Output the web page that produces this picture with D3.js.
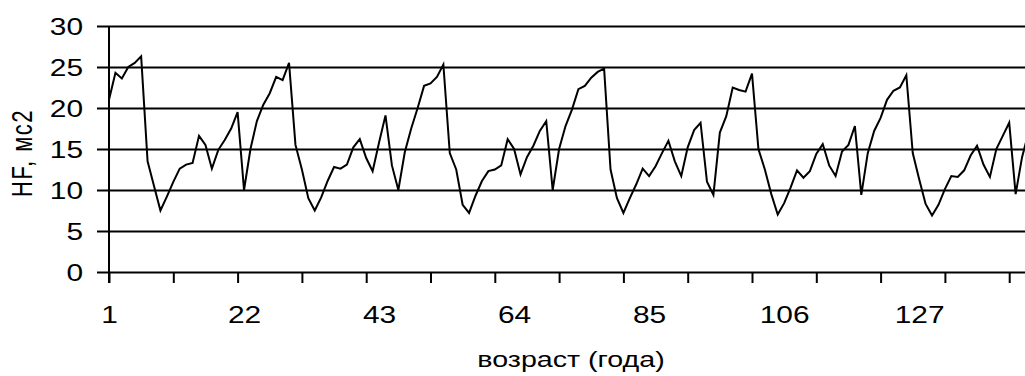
<!DOCTYPE html>
<html><head><meta charset="utf-8">
<script src="https://cdn.jsdelivr.net/npm/d3@7"></script>
<style>html,body{margin:0;padding:0;background:#fff;overflow:hidden}</style>
</head><body>
<svg id="c" width="1025" height="376"></svg>
<script>
// HF values (мс2) per category 1..144
const values = [
  21.0, 24.3, 23.6, 25.0, 25.5, 26.3, 13.5, 10.5, 7.5, 9.2,
  11.0, 12.6, 13.1, 13.3, 16.6, 15.5, 12.6, 14.9, 16.1, 17.5,
  19.5, 10.0, 15.0, 18.4, 20.4, 21.8, 23.8, 23.4, 25.5, 15.5,
  12.5, 9.0, 7.5, 9.1, 11.1, 12.8, 12.6, 13.1, 15.2, 16.2,
  13.9, 12.3, 15.8, 19.1, 13.0, 10.0, 14.6, 17.5, 20.0, 22.7,
  23.0, 23.8, 25.3, 14.5, 12.5, 8.2, 7.2, 9.3, 11.1, 12.3,
  12.5, 13.0, 16.2, 15.0, 11.9, 14.0, 15.4, 17.2, 18.4, 10.0,
  15.0, 17.8, 19.8, 22.3, 22.7, 23.7, 24.4, 24.8, 12.5, 9.0,
  7.2, 9.0, 10.7, 12.6, 11.7, 12.9, 14.5, 16.0, 13.5, 11.7,
  15.2, 17.3, 18.2, 11.0, 9.4, 17.0, 19.0, 22.5, 22.2, 22.0,
  24.2, 15.0, 12.5, 9.5, 7.0, 8.4, 10.3, 12.4, 11.5, 12.3,
  14.4, 15.6, 13.0, 11.7, 14.7, 15.5, 17.8, 9.4, 14.5, 17.2,
  18.8, 21.0, 22.1, 22.5, 24.0, 14.5, 11.3, 8.3, 6.9, 8.2,
  10.1, 11.7, 11.6, 12.4, 14.2, 15.4, 13.1, 11.6, 15.0, 16.6,
  18.2, 9.5, 14.0, 17.0
];
const categories = values.map((d, i) => i + 1);
const yTicks = [0, 5, 10, 15, 20, 25, 30];
const xLabelCats = [1, 22, 43, 64, 85, 106, 127];
const xTickCats = d3.range(1, 150, 10);
const xTitle = "возраст (года)";
const yTitle = "HF, мс2";

const FONT = "'Liberation Sans', Arial, sans-serif";
const SX = 1.3; // horizontal stretch of the source picture

const svg = d3.select('#c');
const plotLeft = 109, plotTop = 26, plotBottom = 272;
const x = d3.scaleLinear().domain([1, 145]).range([plotLeft, plotLeft + 144 * 6.43]);
const y = d3.scaleLinear().domain([0, 30]).range([plotBottom, plotTop]);
const W = 1100 - plotLeft;

// Y axis with gridlines
const gy = svg.append('g').attr('transform', `translate(${plotLeft},0)`)
  .call(d3.axisLeft(y).tickValues(yTicks).tickSize(12).tickSizeOuter(0));
gy.select('.domain').remove();
gy.selectAll('.tick line').attr('x1', -12).attr('x2', W)
  .attr('stroke', '#000').attr('stroke-width', 2);
gy.selectAll('.tick text')
  .attr('x', -26 / SX).attr('dy', '0.36em')
  .attr('transform', `scale(${SX},1)`)
  .attr('font-family', FONT).attr('font-size', 23).attr('fill', '#000');

// vertical axis line
svg.append('line')
  .attr('x1', plotLeft).attr('x2', plotLeft)
  .attr('y1', y(30)).attr('y2', plotBottom + 11)
  .attr('stroke', '#000').attr('stroke-width', 2);

// X axis ticks
const gx = svg.append('g').attr('transform', `translate(0,${plotBottom})`)
  .call(d3.axisBottom(x).tickValues(xTickCats).tickSize(11).tickFormat(''));
gx.select('.domain').remove();
gx.selectAll('.tick line').attr('stroke', '#000').attr('stroke-width', 2);

// X labels
const gl = svg.append('g').attr('transform', `translate(0,${plotBottom})`)
  .call(d3.axisBottom(x).tickValues(xLabelCats).tickSize(0).tickFormat(d3.format('d')));
gl.select('.domain').remove();
gl.selectAll('.tick text')
  .attr('y', 51).attr('dy', 0)
  .attr('transform', `scale(${SX},1)`)
  .attr('font-family', FONT).attr('font-size', 23).attr('fill', '#000');

// Data line
svg.append('path')
  .datum(values)
  .attr('fill', 'none').attr('stroke', '#000').attr('stroke-width', 2)
  .attr('stroke-linejoin', 'miter')
  .attr('d', d3.line().x((d, i) => x(categories[i])).y(d => y(d)));

// Titles
svg.append('text')
  .attr('transform', `translate(571,367) scale(${SX},1)`)
  .attr('text-anchor', 'middle')
  .attr('font-family', FONT).attr('font-size', 22).attr('fill', '#000')
  .text(xTitle);

svg.append('text')
  .attr('transform', `translate(32,153) scale(${SX},1) rotate(-90)`)
  .attr('text-anchor', 'middle')
  .attr('font-family', FONT).attr('font-size', 22).attr('fill', '#000')
  .attr('letter-spacing', 1.5)
  .text(yTitle);
</script>
</body></html>
